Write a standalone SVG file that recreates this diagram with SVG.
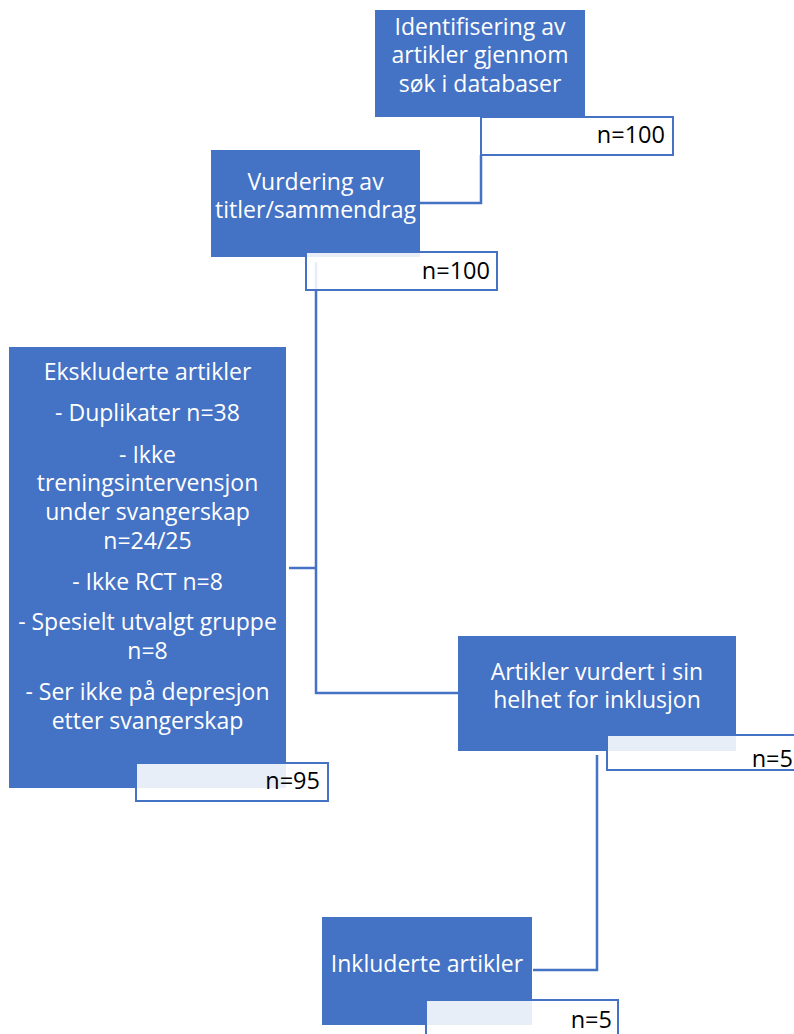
<svg xmlns="http://www.w3.org/2000/svg" width="794" height="1034" viewBox="0 0 794 1034">
<style>
.blk{fill:#4472C4}
.nbox{fill:#ffffff;fill-opacity:0.88;stroke:#4472C4;stroke-width:2}
.wt{font-family:"Open Sans","Noto Sans",sans-serif;font-size:23px;fill:#ffffff;text-anchor:middle}
.nt{font-family:"Open Sans","Noto Sans",sans-serif;font-size:23.5px;fill:#000000;text-anchor:end}
.con{fill:none;stroke:#4472C4;stroke-width:2.5}
</style>
<rect width="794" height="1034" fill="#ffffff"/>
<g id="connectors">
<polyline class="con" points="481,155 481,203 420,203"/>
<polyline class="con" points="316,262 316,693 459,693"/>
<polyline class="con" points="289,568 316,568"/>
<polyline class="con" points="597,755 597,970 533,970"/>
</g>
<g id="node-identifisering">
<rect class="blk" x="375" y="10" width="210" height="107"/>
<text class="wt" x="480" y="35">Identifisering av</text>
<text class="wt" x="480" y="63">artikler gjennom</text>
<text class="wt" x="480" y="92">søk i databaser</text>
<rect class="nbox" x="481" y="117" width="192" height="38"/>
<text class="nt" x="665" y="143">n=100</text>
</g>
<g id="node-vurdering">
<rect class="blk" x="211" y="150" width="209" height="107"/>
<text class="wt" x="315.5" y="190">Vurdering av</text>
<text class="wt" x="315.5" y="218">titler/sammendrag</text>
<rect class="nbox" x="306" y="252" width="191" height="38"/>
<text class="nt" x="490" y="279">n=100</text>
</g>
<g id="node-ekskluderte">
<rect class="blk" x="9" y="347" width="277" height="441"/>
<text class="wt" x="147.5" y="380">Ekskluderte artikler</text>
<text class="wt" x="147.5" y="421">- Duplikater n=38</text>
<text class="wt" x="147.5" y="463">- Ikke</text>
<text class="wt" x="147.5" y="491">treningsintervensjon</text>
<text class="wt" x="147.5" y="520">under svangerskap</text>
<text class="wt" x="147.5" y="549">n=24/25</text>
<text class="wt" x="147.5" y="590">- Ikke RCT n=8</text>
<text class="wt" x="147.5" y="630">- Spesielt utvalgt gruppe</text>
<text class="wt" x="147.5" y="659">n=8</text>
<text class="wt" x="147.5" y="700">- Ser ikke på depresjon</text>
<text class="wt" x="147.5" y="729">etter svangerskap</text>
<rect class="nbox" x="136" y="763" width="192" height="38"/>
<text class="nt" x="320" y="789">n=95</text>
</g>
<g id="node-vurdert">
<rect class="blk" x="458" y="636" width="278" height="115"/>
<text class="wt" x="597" y="680">Artikler vurdert i sin</text>
<text class="wt" x="597" y="708">helhet for inklusjon</text>
<rect class="nbox" x="607" y="735" width="193" height="35"/>
<text class="nt" x="793" y="767">n=5</text>
</g>
<g id="node-inkluderte">
<rect class="blk" x="322" y="917" width="210" height="108"/>
<text class="wt" x="427" y="972">Inkluderte artikler</text>
<rect class="nbox" x="426" y="1000" width="192" height="40"/>
<text class="nt" x="612" y="1028">n=5</text>
</g>
</svg>
